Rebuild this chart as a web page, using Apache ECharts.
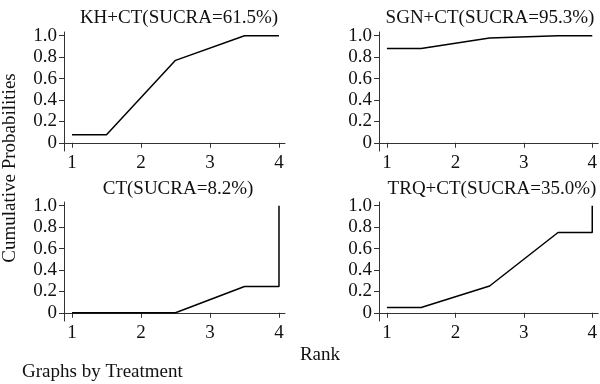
<!DOCTYPE html>
<html>
<head>
<meta charset="utf-8">
<script src="https://cdn.jsdelivr.net/npm/echarts@6/dist/echarts.min.js"></script>
<style>html,body{margin:0;padding:0;background:#fff}#c{width:600px;height:384px}</style>
</head>
<body>
<div id="c"></div>
<script>
// ---- data ----
var panelTitles = ["KH+CT(SUCRA=61.5%)", "SGN+CT(SUCRA=95.3%)", "CT(SUCRA=8.2%)", "TRQ+CT(SUCRA=35.0%)"];
var rankX = [1, 1.5, 2.5, 3.5, 4, 4];
var khCT  = [0.075, 0.075, 0.77, 1.0, 1.0, 1.0];
var sgnCT = [0.88, 0.88, 0.98, 1.0, 1.0, 1.0];
var ctOnly = [0.0, 0.0, 0.0, 0.245, 0.245, 1.0];
var trqCT = [0.05, 0.05, 0.25, 0.75, 0.75, 1.0];
var xTicks = [1, 2, 3, 4];
var yTicks = [0, 0.2, 0.4, 0.6, 0.8, 1.0];
var yTickLabels = ["0", "0.2", "0.4", "0.6", "0.8", "1.0"];
var yLabelTitle = "Cumulative Probabilities";
var xLabelTitle = "Rank";
var noteText = "Graphs by Treatment";

var seriesVals = [khCT, sgnCT, ctOnly, trqCT];
var FONT = '"Liberation Serif","Times New Roman",serif';
var chart = echarts.init(document.getElementById('c'), null, {renderer: 'canvas'});

var grids = [
  {left: 64, top: 32, width: 221, height: 119},
  {left: 379, top: 32, width: 221, height: 119},
  {left: 64, top: 202, width: 221, height: 119},
  {left: 379, top: 202, width: 221, height: 119}
];
var titlePos = [[179, 18], [490, 18], [178, 189], [492, 189]];

var xAxes = [], yAxes = [], series = [], graphics = [];
for (var i = 0; i < 4; i++) {
  xAxes.push({
    type: 'value', gridIndex: i, min: 0.884, max: 4.087,
    splitLine: {show: false},
    axisLine: {show: true, lineStyle: {color: '#333', width: 1}},
    axisTick: {show: true, length: 5, customValues: xTicks, lineStyle: {color: '#333'}},
    axisLabel: {show: true, customValues: xTicks, margin: 3, color: '#111', fontFamily: FONT, fontSize: 19,
      formatter: function (v) { return String(v); }}
  });
  yAxes.push({
    type: 'value', gridIndex: i, min: -0.077, max: 1.035,
    splitLine: {show: false},
    axisLine: {show: true, lineStyle: {color: '#333', width: 1}},
    axisTick: {show: true, length: 5, customValues: yTicks, lineStyle: {color: '#333'}},
    axisLabel: {show: true, customValues: yTicks, margin: 7, color: '#111', fontFamily: FONT, fontSize: 19,
      formatter: function (v) {
        var idx = yTicks.findIndex(function (t) { return Math.abs(t - v) < 1e-9; });
        return idx >= 0 ? yTickLabels[idx] : '';
      }}
  });
  var vals = seriesVals[i];
  series.push({
    type: 'line', xAxisIndex: i, yAxisIndex: i, symbol: 'none', silent: true,
    lineStyle: {color: '#000', width: 1.5},
    data: rankX.map(function (x, k) { return [x, vals[k]]; })
  });
  graphics.push({
    type: 'text', x: titlePos[i][0], y: titlePos[i][1],
    style: {text: panelTitles[i], fill: '#111', font: '19px ' + FONT, textAlign: 'center', textVerticalAlign: 'middle'}
  });
}
graphics.push({
  type: 'text', x: 10, y: 168, rotation: Math.PI / 2,
  style: {text: yLabelTitle, fill: '#111', font: '19px ' + FONT, textAlign: 'center', textVerticalAlign: 'middle'}
});
graphics.push({
  type: 'text', x: 320, y: 355,
  style: {text: xLabelTitle, fill: '#111', font: '19px ' + FONT, textAlign: 'center', textVerticalAlign: 'middle'}
});
graphics.push({
  type: 'text', x: 22, y: 372,
  style: {text: noteText, fill: '#111', font: '19px ' + FONT, textAlign: 'left', textVerticalAlign: 'middle'}
});

chart.setOption({
  animation: false,
  backgroundColor: '#fff',
  grid: grids,
  xAxis: xAxes,
  yAxis: yAxes,
  series: series,
  graphic: graphics
});
</script>
</body>
</html>
